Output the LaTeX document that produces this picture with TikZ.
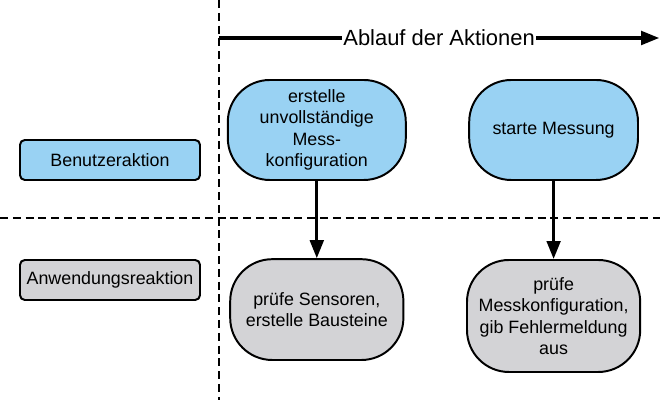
\documentclass[tikz,border=0pt]{standalone}
\usepackage{fontspec}
\setmainfont{Liberation Sans}
\usetikzlibrary{arrows.meta}
\definecolor{aktionblau}{RGB}{153,210,243}
\definecolor{reaktiongrau}{RGB}{211,211,214}

\begin{document}
\begin{tikzpicture}[
    aktion/.style={rectangle, draw, line width=1.4pt, rounded corners=1.05cm,
                   fill=aktionblau, align=center, inner sep=2pt,
                   font=\fontsize{12.7}{15.2}\selectfont},
    reaktion/.style={aktion, fill=reaktiongrau},
    legende/.style={rectangle, draw, line width=1.4pt, rounded corners=0.12cm,
                    minimum width=4.5cm, minimum height=1cm, align=center,
                    font=\fontsize{12.7}{15.2}\selectfont},
    trenner/.style={dashed, line width=1.2pt, dash pattern=on 0.2cm off 0.12cm},
    link/.style={-{Triangle[length=0.45cm, width=0.34cm]}, line width=2.2pt}
]
    \useasboundingbox (0,0) rectangle (16.5,10);

    \draw[trenner] (5.475,10) -- (5.475,0);
    \draw[trenner] (0,4.55) -- (16.5,4.55);

    \node[legende, fill=aktionblau] (benutzer) at (2.75,6.0) {Benutzeraktion};
    \node[legende, fill=reaktiongrau] (anwendung) at (2.75,3.0) {Anwendungsreaktion};

    \node[aktion, minimum width=4.45cm, minimum height=2.5cm] (erstelle) at (7.92,6.75)
        {erstelle\\unvollständige\\Mess-\\konfiguration};
    \node[aktion, minimum width=4.22cm, minimum height=2.5cm] (starte) at (13.84,6.75)
        {starte Messung};
    \node[reaktion, minimum width=4.33cm, minimum height=2.52cm] (pruefsens) at (7.92,2.26)
        {prüfe Sensoren,\\erstelle Bausteine};
    \node[reaktion, minimum width=4.33cm, minimum height=2.8cm] (pruefkonf) at (13.84,2.1)
        {prüfe\\Messkonfiguration,\\gib Fehlermeldung\\aus};

    \coordinate (ablaufstart) at (5.475,9.05);
    \coordinate (ablaufende) at (16.48,9.05);
    \draw[link] (ablaufstart) -- node[fill=white, inner sep=1pt,
        font=\fontsize{15.6}{18}\selectfont] (ablauf) {Ablauf der Aktionen} (ablaufende);

    \draw[link] (erstelle) -- (pruefsens);
    \draw[link] (starte) -- (pruefkonf);
\end{tikzpicture}
\end{document}
